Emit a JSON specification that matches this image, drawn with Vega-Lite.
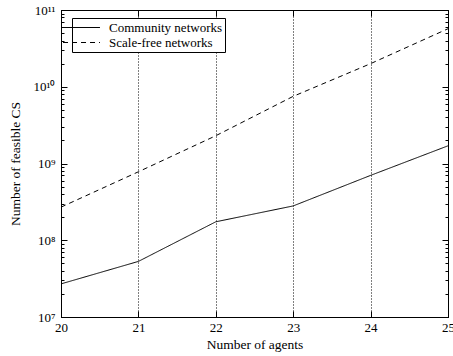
{
  "$schema": "https://vega.github.io/schema/vega-lite/v6.json",
  "width": 387,
  "height": 307,
  "autosize": {"type": "none"},
  "padding": {"left": 61, "top": 10, "right": 5, "bottom": 39},
  "background": "white",
  "config": {
    "font": "Liberation Serif",
    "view": {"stroke": "#000", "strokeWidth": 1},
    "axis": {"domainColor": "#000", "tickColor": "#000", "labelColor": "#000", "titleColor": "#000", "labelFont": "Liberation Serif", "titleFont": "Liberation Serif", "titleFontWeight": "normal"}
  },
  "data": {"values": [
    {"n": 20, "v": 2.7e7, "s": "Community networks"},
    {"n": 21, "v": 5.3e7, "s": "Community networks"},
    {"n": 22, "v": 1.74e8, "s": "Community networks"},
    {"n": 23, "v": 2.8e8, "s": "Community networks"},
    {"n": 24, "v": 7.0e8, "s": "Community networks"},
    {"n": 25, "v": 1.7e9, "s": "Community networks"},
    {"n": 20, "v": 2.7e8, "s": "Scale-free networks"},
    {"n": 21, "v": 7.8e8, "s": "Scale-free networks"},
    {"n": 22, "v": 2.3e9, "s": "Scale-free networks"},
    {"n": 23, "v": 7.5e9, "s": "Scale-free networks"},
    {"n": 24, "v": 2.0e10, "s": "Scale-free networks"},
    {"n": 25, "v": 5.7e10, "s": "Scale-free networks"}
  ]},
  "resolve": {"axis": {"x": "independent", "y": "independent"}},
  "layer": [
    {
      "mark": {"type": "line", "color": "#000", "strokeWidth": 1, "clip": true},
      "encoding": {
        "x": {"field": "n", "type": "quantitative",
          "scale": {"domain": [20, 25], "nice": false, "zero": false},
          "axis": {"orient": "bottom", "title": "Number of agents", "titleFontSize": 13.5, "titlePadding": 3,
            "values": [20, 21, 22, 23, 24, 25], "format": "d", "labelFontSize": 13,
            "tickSize": -6, "labelPadding": 10, "labelFlush": false, "labelOverlap": false,
            "grid": true, "gridColor": "#000", "gridDash": [1, 2], "gridOpacity": 1, "gridWidth": 1}},
        "y": {"field": "v", "type": "quantitative",
          "scale": {"type": "log", "domain": [1e7, 1e11], "nice": false},
          "axis": {"orient": "left", "title": "Number of feasible CS", "titleFontSize": 13.5, "titlePadding": 11,
            "values": [1e7,2e7,3e7,4e7,5e7,6e7,7e7,8e7,9e7,1e8,2e8,3e8,4e8,5e8,6e8,7e8,8e8,9e8,1e9,2e9,3e9,4e9,5e9,6e9,7e9,8e9,9e9,1e10,2e10,3e10,4e10,5e10,6e10,7e10,8e10,9e10,1e11],
            "labelExpr": "datum.value == 1e7 ? '10⁷' : datum.value == 1e8 ? '10⁸' : datum.value == 1e9 ? '10⁹' : datum.value == 1e10 ? '10¹⁰' : datum.value == 1e11 ? '10¹¹' : ''",
            "labelFontSize": 13, "labelOverlap": false, "labelFlush": false,
            "tickSize": {"condition": {"test": "datum.value == 1e7 || datum.value == 1e8 || datum.value == 1e9 || datum.value == 1e10 || datum.value == 1e11", "value": -6}, "value": -3},
            "labelPadding": 12, "grid": false}},
        "strokeDash": {"field": "s", "type": "nominal",
          "scale": {"domain": ["Community networks", "Scale-free networks"], "range": [[1, 0], [5, 4]]},
          "legend": {"orient": "none", "legendX": 11, "legendY": 8, "title": null,
            "strokeColor": "#000", "fillColor": "white", "padding": 2, "symbolType": "M-2.64,0H2.64",
            "symbolSize": 196, "symbolStrokeWidth": 1, "symbolStrokeColor": "#000", "symbolOffset": 0,
            "labelFontSize": 13, "labelFont": "Liberation Serif", "labelColor": "#000", "rowPadding": -1, "labelOffset": 20}}
      }
    },
    {
      "mark": {"type": "line", "opacity": 0},
      "encoding": {
        "x": {"field": "n", "type": "quantitative",
          "axis": {"orient": "top", "title": null, "labels": false, "values": [20, 21, 22, 23, 24, 25], "tickSize": -6, "grid": false}},
        "y": {"field": "v", "type": "quantitative", "scale": {"type": "log"},
          "axis": {"orient": "right", "title": null, "labels": false, "grid": false,
            "values": [1e7,2e7,3e7,4e7,5e7,6e7,7e7,8e7,9e7,1e8,2e8,3e8,4e8,5e8,6e8,7e8,8e8,9e8,1e9,2e9,3e9,4e9,5e9,6e9,7e9,8e9,9e9,1e10,2e10,3e10,4e10,5e10,6e10,7e10,8e10,9e10,1e11],
            "tickSize": {"condition": {"test": "datum.value == 1e7 || datum.value == 1e8 || datum.value == 1e9 || datum.value == 1e10 || datum.value == 1e11", "value": -6}, "value": -3}}},
        "detail": {"field": "s"}
      }
    }
  ]
}
